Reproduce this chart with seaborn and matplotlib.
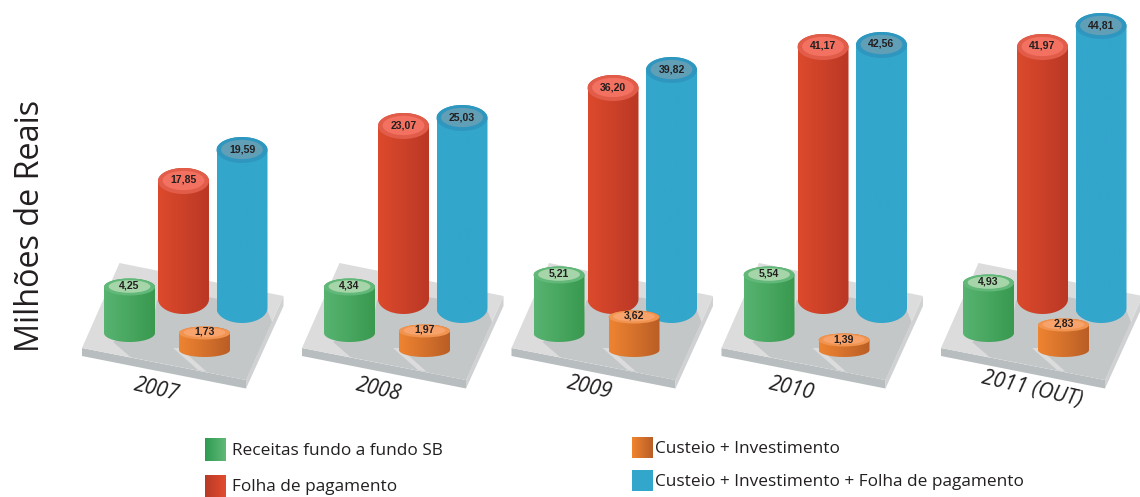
#!/usr/bin/env python3
"""Receitas e despesas 2007-2011: cilindros sobre plataformas."""
import numpy as np
import matplotlib
matplotlib.use("Agg")
import matplotlib.pyplot as plt
from matplotlib.patches import Ellipse, Polygon
import seaborn as sns

YEARS = ["2007", "2008", "2009", "2010", "2011 (OUT)"]
RECEITAS = [4.25, 4.34, 5.21, 5.54, 4.93]
FOLHA = [17.85, 23.07, 36.20, 41.17, 41.97]
CUSTEIO = [1.73, 1.97, 3.62, 1.39, 2.83]
TOTAL = [19.59, 25.03, 39.82, 42.56, 44.81]
LEGEND_LABELS = ["Receitas fundo a fundo SB", "Folha de pagamento",
                 "Custeio + Investimento", "Custeio + Investimento + Folha de pagamento"]
YLABEL = "Milhões de Reais"

# the drawing's value axis is not linear: value -> height in px
SCALE_V = [0, 1.39, 1.73, 1.97, 2.83, 3.62, 4.25, 4.34, 4.93, 5.21, 5.54,
           17.85, 19.59, 23.07, 25.03, 36.20, 39.82, 41.17, 41.97, 42.56, 44.81]
SCALE_H = [0, 10, 17, 19, 25, 33, 46, 46, 50, 58, 58,
           118, 158, 173, 190, 211, 238, 252, 252, 263, 282]

GROUP_DX = [0, 220, 429.5, 639.5, 859]
W = 51
FONT = "Open Sans"

# x0, base y, ry top, ry bottom, gradient, ring, face
STYLE = {
    "rec": (104, 333, 8.5, 9, ("#57b471", "#39994f"), "#62b878", "#a5d5a9"),
    "fol": (158, 299, 13, 15, ("#dc4a2c", "#bb3825"), "#e25c4a", "#f37160"),
    "tot": (216.5, 308, 13, 15, ("#33a6cc", "#33a6cc"), "#2f97bf", "#619fb6"),
    "cus": (179, 350, 6.5, 7, ("#ef8431", "#ba5e26"), "#f09450", "#f8a36c"),
}


def bar_height(v):
    return np.interp(v, SCALE_V, SCALE_H)


def cylinder(ax, key, dx, value):
    x0, base, ry_top, ry_bot, grad, ring, face = STYLE[key]
    x0 = x0 + dx
    top = base - bar_height(value)
    cx, rx = x0 + W / 2, W / 2
    t = np.linspace(0, np.pi, 40)
    lower = np.c_[cx + rx * np.cos(t), base + ry_bot * np.sin(t)]
    upper = np.c_[cx - rx * np.cos(t), top - ry_top * np.sin(t)]
    outline = Polygon(np.r_[lower, upper], closed=True, transform=ax.transData)
    cmap = sns.blend_palette(list(grad), n_colors=64, as_cmap=True)
    im = ax.imshow(np.linspace(0, 1, 64)[None, :], cmap=cmap, aspect="auto", zorder=3,
                   extent=(x0, x0 + W, base + ry_bot, top - ry_top))
    im.set_clip_path(outline)
    ax.add_patch(Ellipse((cx, top), W, 2 * ry_top, fc=ring, ec="none", zorder=3))
    ax.add_patch(Ellipse((cx, top - 0.5), W * 0.82, 2 * ry_top * 0.74, fc=face, ec="none", zorder=3))
    ax.text(cx, top - 1, f"{value:.2f}".replace(".", ","), ha="center", va="center", zorder=4,
            fontsize=7.6, fontweight="bold", color="#231f20", family="Liberation Sans")


def plate(ax, dx):
    def P(pts, **kw):
        ax.add_patch(Polygon(np.array(pts) + [dx, 0], closed=True, ec="none", zorder=2, **kw))
    P([(82, 348), (246, 380), (246, 388.5), (82, 356)], fc="#b8bdbf")
    P([(246, 380), (283.5, 296), (283.5, 306), (246, 388.5)], fc="#cfd1d2")
    P([(119.5, 263), (283.5, 296), (246, 380), (82, 348)], fc="#dcdcdd")
    # cast shadow, with the thin lit wedge in front of the orange cylinder
    P([(113, 342), (130.7, 357.2), (246, 380), (272, 322), (266, 307), (208, 297), (157, 300), (154, 317)],
      fc="#c3c7c8")
    P([(198.3, 370.2), (206.7, 371.8), (180, 348), (173, 348)], fc="#dcdcdd")


def gradient_swatch(ax, x0, y0, x1, y1, c0, c1):
    cmap = sns.blend_palette([c0, c1], n_colors=64, as_cmap=True)
    ax.imshow(np.linspace(0, 1, 64)[None, :], cmap=cmap, aspect="auto", zorder=3,
              extent=(x0, x1, y1, y0))


def main():
    sns.set_theme(style="white")
    plt.rcParams["font.family"] = [FONT, "DejaVu Sans"]
    fig = plt.figure(figsize=(11.4, 4.97), dpi=100)
    ax = fig.add_axes([0, 0, 1, 1])

    for i, dx in enumerate(GROUP_DX):
        plate(ax, dx)
        cylinder(ax, "rec", dx, RECEITAS[i])
        cylinder(ax, "fol", dx, FOLHA[i])
        cylinder(ax, "tot", dx, TOTAL[i])
        cylinder(ax, "cus", dx, CUSTEIO[i])

    year_x = [157, 379, 590, 792, 1032]
    year_y = [390, 390, 388, 389, 389]
    for x, y, lab in zip(year_x, year_y, YEARS):
        ax.text(x, y, lab, rotation=-13, rotation_mode="anchor", ha="center", va="center",
                fontsize=15, style="italic", color="#231f20")

    ax.text(31, 226, YLABEL, rotation=90, ha="center", va="center", fontsize=23.3, color="#231f20")

    gradient_swatch(ax, 205, 438, 226, 461, "#2e9b52", "#62b878")
    gradient_swatch(ax, 205, 475, 226, 497, "#b83a26", "#e34c2e")
    gradient_swatch(ax, 632, 437, 653, 458, "#f08530", "#b85e26")
    gradient_swatch(ax, 632, 470, 653, 491, "#33a6cc", "#33a6cc")
    for x, y, lab in zip([232, 232, 655, 655], [451, 487, 449, 482], LEGEND_LABELS):
        ax.text(x, y, lab, ha="left", va="center", fontsize=12.45, color="#231f20")

    ax.set_xlim(0, 1140)
    ax.set_ylim(497, 0)
    ax.axis("off")
    fig.savefig("out.png", dpi=100)


if __name__ == "__main__":
    main()
